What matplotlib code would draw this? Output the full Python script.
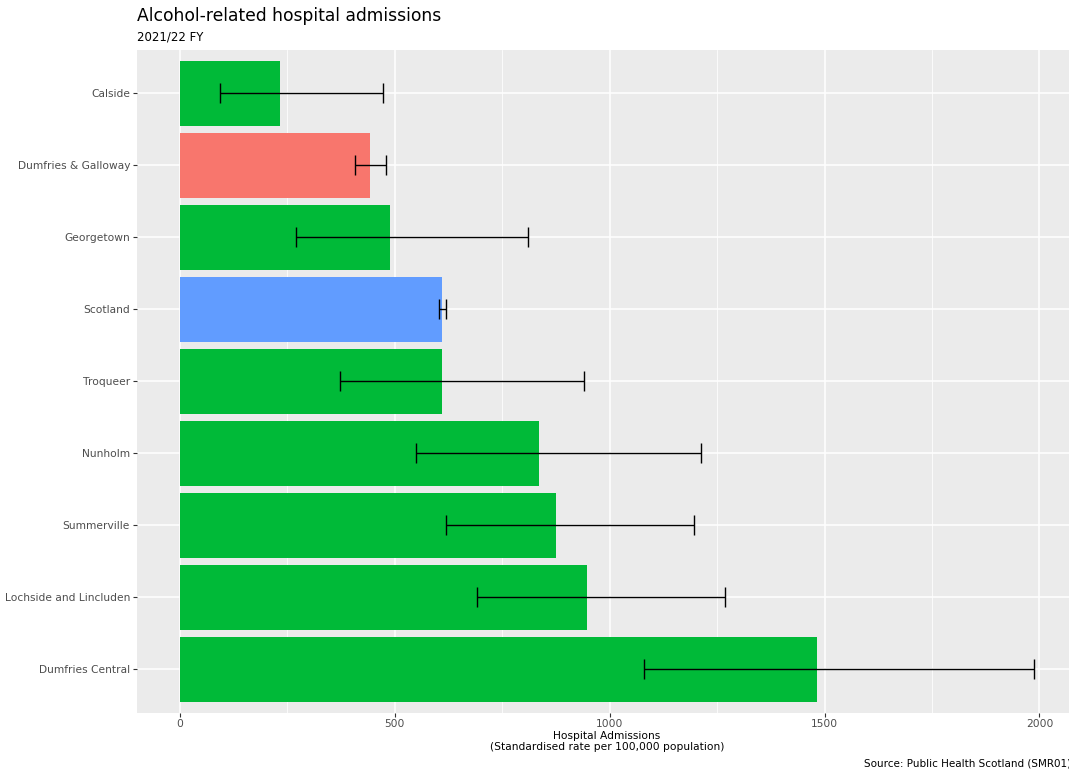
import matplotlib
matplotlib.use("Agg")
import matplotlib.pyplot as plt
from matplotlib.ticker import MultipleLocator

plt.rcParams['font.family'] = ['DejaVu Sans']

categories = ["Calside", "Dumfries & Galloway", "Georgetown", "Scotland", "Troqueer",
              "Nunholm", "Summerville", "Lochside and Lincluden", "Dumfries Central"]
rates = [234, 442, 490, 611, 611, 835, 875, 948, 1483]
lower_ci = [93, 408, 270, 603, 373, 549, 619, 691, 1080]
upper_ci = [473, 479, 810, 619, 940, 1213, 1197, 1268, 1988]
groups = ["Intermediate zone", "Council area", "Intermediate zone", "Scotland", "Intermediate zone",
          "Intermediate zone", "Intermediate zone", "Intermediate zone", "Intermediate zone"]
group_colors = {"Council area": "#F8766D", "Intermediate zone": "#00BA38", "Scotland": "#619CFF"}
x_ticks = [0, 500, 1000, 1500, 2000]

W, H = 1069, 771
fig = plt.figure(figsize=(W / 100, H / 100), dpi=100)
fig.patch.set_facecolor("white")

left, right, top, bottom = 137, 1077, 50, 712.5
ax = fig.add_axes([left / W, 1 - bottom / H, (right - left) / W, (bottom - top) / H])
ax.set_facecolor("#EBEBEB")
for s in ax.spines.values():
    s.set_visible(False)

ypos = list(range(len(categories)))
colors = [group_colors[g] for g in groups]
ax.barh(ypos, rates, height=0.9, color=colors, zorder=3)
xerr = [[r - l for r, l in zip(rates, lower_ci)], [u - r for r, u in zip(rates, upper_ci)]]
ax.errorbar(rates, ypos, xerr=xerr, fmt="none", ecolor="black", elinewidth=1.0,
            capsize=7, capthick=1.0, zorder=4)

ax.set_yticks(ypos)
ax.set_yticklabels(categories)
ax.set_ylim(len(categories) - 1 + 0.6, -0.6)
ax.set_xlim(-99.4, 2087.4)
ax.set_xticks(x_ticks)
ax.set_xticklabels([str(t) for t in x_ticks])
ax.xaxis.set_minor_locator(MultipleLocator(250))

ax.grid(which="major", color="white", linewidth=1.1, zorder=0)
ax.grid(which="minor", axis="x", color="white", linewidth=0.55, zorder=0)
ax.set_axisbelow(True)

ax.tick_params(axis="both", which="major", length=3.2, width=0.8, color="#333333",
               labelsize=7.7, labelcolor="#4D4D4D", pad=1.8)
ax.tick_params(axis="both", which="minor", length=0)

ax.set_xlabel("Hospital Admissions\n(Standardised rate per 100,000 population)",
              fontsize=7.7, color="black", labelpad=1, linespacing=1.15)

fig.text(left / W, 1 - 16 / H, "Alcohol-related hospital admissions", fontsize=12.3,
         ha="left", va="center", color="black")
fig.text(left / W, 1 - 37 / H, "2021/22 FY", fontsize=8.5, ha="left", va="center", color="black")
fig.text(864 / W, 1 - 763 / H, "Source: Public Health Scotland (SMR01)", fontsize=7.5,
         ha="left", va="center", color="black")

fig.savefig("out.png", dpi=100)
